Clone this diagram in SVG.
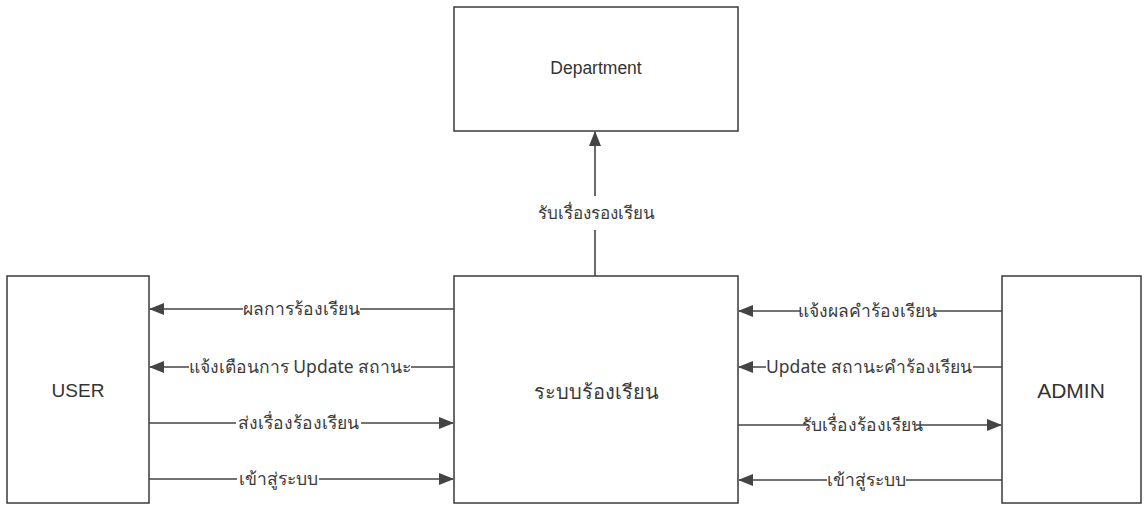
<svg xmlns="http://www.w3.org/2000/svg" width="1144" height="507" viewBox="0 0 1144 507">
<style>
.box{fill:#fff;stroke:#3a3a3a;stroke-width:1.5}
.ln{fill:none;stroke:#444;stroke-width:1.6}
.lbl{font-family:"Noto Sans","DejaVu Sans",sans-serif;font-size:17.5px;fill:#3a3a3a;text-anchor:middle;dominant-baseline:central}
.nm{font-family:"Liberation Sans","Noto Sans",sans-serif;fill:#333;text-anchor:middle;dominant-baseline:central}
.bg{fill:#fff}
</style>
<defs>
<marker id="ah" markerUnits="userSpaceOnUse" markerWidth="16" markerHeight="12" refX="14" refY="6" orient="auto">
<path d="M0,0 L15,6 L0,12 Z" fill="#444"/>
</marker>
</defs>
<rect width="1144" height="507" fill="#fff"/>
<g id="department"><rect class="box" x="454" y="7" width="284" height="124"/><text class="nm" x="596" y="68" style="font-size:17.5px">Department</text></g>
<g id="system"><rect class="box" x="454" y="276" width="284" height="227"/><text class="lbl" x="596" y="391" style="font-size:20px">ระบบร้องเรียน</text></g>
<g id="user"><rect class="box" x="7" y="276" width="142" height="227"/><text class="nm" x="78" y="390" style="font-size:19px">USER</text></g>
<g id="admin"><rect class="box" x="1002" y="276" width="139" height="227"/><text class="nm" x="1071" y="390" style="font-size:21px">ADMIN</text></g>
<g id="connectors">
<line class="ln" x1="595" y1="276" x2="595" y2="230"/>
<line class="ln" x1="595" y1="196" x2="595" y2="132" marker-end="url(#ah)"/>
<text class="lbl" x="596" y="212" style="font-size:17px">รับเรื่องรองเรียน</text>
<line class="ln" x1="454" y1="309" x2="150" y2="309" marker-end="url(#ah)"/>
<rect class="bg" x="243" y="300" width="117" height="18"/><text class="lbl" x="301" y="308">ผลการร้องเรียน</text>
<line class="ln" x1="454" y1="367" x2="150" y2="367" marker-end="url(#ah)"/>
<rect class="bg" x="189" y="358" width="222" height="18"/><text class="lbl" x="300" y="366">แจ้งเตือนการ Update สถานะ</text>
<line class="ln" x1="149" y1="423" x2="453" y2="423" marker-end="url(#ah)"/>
<rect class="bg" x="236" y="414" width="125" height="18"/><text class="lbl" x="298" y="422">ส่งเรื่องร้องเรียน</text>
<line class="ln" x1="149" y1="479" x2="453" y2="479" marker-end="url(#ah)"/>
<rect class="bg" x="237" y="470" width="82" height="18"/><text class="lbl" x="278" y="478">เข้าสู่ระบบ</text>
<line class="ln" x1="1002" y1="311" x2="739" y2="311" marker-end="url(#ah)"/>
<rect class="bg" x="800" y="302" width="135" height="18"/><text class="lbl" x="867" y="310">แจ้งผลคำร้องเรียน</text>
<line class="ln" x1="1002" y1="367" x2="739" y2="367" marker-end="url(#ah)"/>
<rect class="bg" x="766" y="358" width="207" height="18"/><text class="lbl" x="869" y="366">Update สถานะคำร้องเรียน</text>
<line class="ln" x1="738" y1="425" x2="1001" y2="425" marker-end="url(#ah)"/>
<rect class="bg" x="808" y="416" width="108" height="18"/><text class="lbl" x="862" y="424">รับเรื่องร้องเรียน</text>
<line class="ln" x1="1002" y1="480" x2="739" y2="480" marker-end="url(#ah)"/>
<rect class="bg" x="827" y="471" width="79" height="18"/><text class="lbl" x="866" y="479">เข้าสู่ระบบ</text>
</g>
</svg>
